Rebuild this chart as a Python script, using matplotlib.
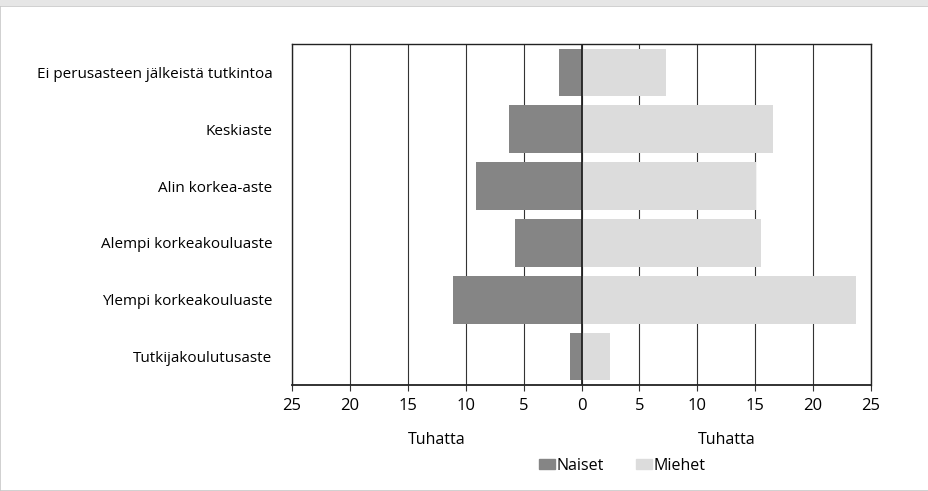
import matplotlib.pyplot as plt
from matplotlib.patches import Rectangle, Patch
from matplotlib.ticker import FuncFormatter
import numpy as np

plt.rcParams['font.family'] = ['Open Sans', 'DejaVu Sans']

categories = ['Ei perusasteen jälkeistä tutkintoa', 'Keskiaste', 'Alin korkea-aste',
              'Alempi korkeakouluaste', 'Ylempi korkeakouluaste', 'Tutkijakoulutusaste']
naiset = [1.9, 6.25, 9.1, 5.7, 11.1, 1.0]
miehet = [7.3, 16.5, 15.1, 15.5, 23.7, 2.5]
xticks = [-25, -20, -15, -10, -5, 0, 5, 10, 15, 20, 25]

c_naiset = '#858585'
c_miehet = '#dcdcdc'

fig = plt.figure(figsize=(9.29, 4.91), dpi=100)
ax = fig.add_axes([292 / 929, 1 - 385 / 491, (871 - 292) / 929, (385 - 44) / 491])

y = np.arange(len(categories))
ax.barh(y, [-v for v in naiset], height=0.84, color=c_naiset, zorder=2)
ax.barh(y, miehet, height=0.84, color=c_miehet, zorder=2)
ax.axvline(0, color='#222222', lw=1.3, zorder=3)

ax.set_xlim(-25, 25)
ax.set_ylim(len(categories) - 0.5, -0.5)
ax.set_xticks(xticks)
ax.xaxis.set_major_formatter(FuncFormatter(lambda v, p: f'{abs(int(v))}'))
ax.set_yticks(y)
ax.set_yticklabels(categories)
ax.grid(axis='x', color='#333333', lw=0.8, zorder=1)
ax.set_axisbelow(True)
ax.tick_params(axis='x', length=4, width=0.8, color='#333333', labelsize=12, pad=5)
ax.tick_params(axis='y', length=0, labelsize=11, pad=14)
for s in ax.spines.values():
    s.set_color('#222222')
    s.set_linewidth(1.0)
ax.spines['bottom'].set_linewidth(1.3)

ax.text(0.25, -0.16, 'Tuhatta', transform=ax.transAxes, ha='center', va='center', fontsize=11.5)
ax.text(0.75, -0.16, 'Tuhatta', transform=ax.transAxes, ha='center', va='center', fontsize=11.5)

handles = [Patch(color=c_naiset, label='Naiset'), Patch(color=c_miehet, label='Miehet')]
fig.legend(handles=handles, loc='center', bbox_to_anchor=(622 / 929, 1 - 466 / 491), ncol=2,
           frameon=False, fontsize=11.5, handlelength=1.0, handleheight=0.6,
           handletextpad=0.1, columnspacing=2.0)

# outer frame of the figure panel
fig.patches.append(Rectangle((0, 0), 1, 1 - 6 / 491, transform=fig.transFigure, fill=False,
                             edgecolor='#c8c8c8', lw=1.2))
fig.patches.append(Rectangle((0, 1 - 6 / 491), 1, 6 / 491, transform=fig.transFigure,
                             facecolor='#e6e6e6', edgecolor='none'))

fig.savefig('out.png', dpi=100)
